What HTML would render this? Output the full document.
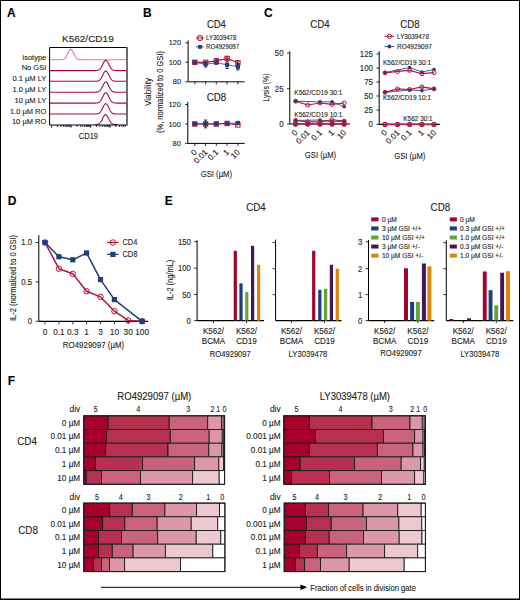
<!DOCTYPE html>
<html><head><meta charset="utf-8"><style>
html,body{margin:0;padding:0;background:#fff;}
svg{display:block;font-family:"Liberation Sans",sans-serif;}
text{stroke:#231f20;stroke-width:0.12px;}
</style></head><body>
<svg width="520" height="600" viewBox="0 0 520 600" fill="#231f20">
<rect width="520" height="600" fill="#fff"/>
<text x="7.00" y="16.80" font-size="12" font-weight="bold" fill="#000">A</text>
<text x="143.00" y="17.10" font-size="12" font-weight="bold" fill="#000">B</text>
<text x="264.00" y="17.00" font-size="12" font-weight="bold" fill="#000">C</text>
<text x="7.70" y="205.00" font-size="12" font-weight="bold" fill="#000">D</text>
<text x="164.80" y="205.00" font-size="12" font-weight="bold" fill="#000">E</text>
<text x="7.70" y="385.00" font-size="12" font-weight="bold" fill="#000">F</text>
<text x="62.00" y="42.00" font-size="9.6" textLength="51.70" lengthAdjust="spacingAndGlyphs">K562/CD19</text>
<polyline points="49.60,59.70 50.08,59.70 50.56,59.70 51.04,59.70 51.52,59.70 52.00,59.70 52.48,59.70 52.96,59.70 53.45,59.70 53.93,59.70 54.41,59.70 54.89,59.70 55.37,59.70 55.85,59.70 56.33,59.70 56.81,59.70 57.29,59.70 57.77,59.70 58.25,59.70 58.73,59.70 59.21,59.70 59.69,59.69 60.17,59.69 60.65,59.68 61.14,59.66 61.62,59.63 62.10,59.58 62.58,59.51 63.06,59.41 63.54,59.25 64.02,59.02 64.50,58.72 64.98,58.31 65.46,57.79 65.94,57.14 66.42,56.37 66.90,55.48 67.38,54.51 67.86,53.47 68.34,52.43 68.83,51.45 69.31,50.59 69.79,49.92 70.27,49.47 70.75,49.30 71.23,49.41 71.71,49.80 72.19,50.43 72.67,51.25 73.15,52.21 73.63,53.24 74.11,54.28 74.59,55.28 75.07,56.19 75.55,56.99 76.03,57.66 76.52,58.21 77.00,58.64 77.48,58.97 77.96,59.21 78.44,59.38 78.92,59.49 79.40,59.57 79.88,59.62 80.36,59.65 80.84,59.67 81.32,59.69 81.80,59.69 82.28,59.70 82.76,59.70 83.24,59.70 83.72,59.70 84.21,59.70 84.69,59.70 85.17,59.70 85.65,59.70 86.13,59.70 86.61,59.70 87.09,59.70 87.57,59.70 88.05,59.70 88.53,59.70 89.01,59.70 89.49,59.70 89.97,59.70 90.45,59.70 90.93,59.70 91.41,59.70 91.90,59.70 92.38,59.70 92.86,59.70 93.34,59.70 93.82,59.70 94.30,59.70 94.78,59.70 95.26,59.70 95.74,59.70 96.22,59.70 96.70,59.70 97.18,59.70 97.66,59.70 98.14,59.70 98.62,59.70 99.10,59.70 99.59,59.70 100.07,59.70 100.55,59.70 101.03,59.70 101.51,59.70 101.99,59.70 102.47,59.70 102.95,59.70 103.43,59.70 103.91,59.70 104.39,59.70 104.87,59.70 105.35,59.70 105.83,59.70 106.31,59.70 106.79,59.70 107.28,59.70 107.76,59.70 108.24,59.70 108.72,59.70 109.20,59.70 109.68,59.70 110.16,59.70 110.64,59.70 111.12,59.70 111.60,59.70 112.08,59.70 112.56,59.70 113.04,59.70 113.52,59.70 114.00,59.70 114.48,59.70 114.97,59.70 115.45,59.70 115.93,59.70 116.41,59.70 116.89,59.70 117.37,59.70 117.85,59.70 118.33,59.70 118.81,59.70 119.29,59.70 119.77,59.70 120.25,59.70 120.73,59.70 121.21,59.70 121.69,59.70 122.17,59.70 122.66,59.70 123.14,59.70 123.62,59.70 124.10,59.70 124.58,59.70 125.06,59.70 125.54,59.70 126.02,59.70 126.50,59.70" fill="none" stroke="#e07c93" stroke-width="1.1" stroke-linejoin="round"/>
<polyline points="49.60,70.60 50.08,70.60 50.56,70.60 51.04,70.60 51.52,70.60 52.00,70.60 52.48,70.60 52.96,70.60 53.45,70.60 53.93,70.60 54.41,70.60 54.89,70.60 55.37,70.60 55.85,70.60 56.33,70.60 56.81,70.60 57.29,70.60 57.77,70.60 58.25,70.60 58.73,70.60 59.21,70.60 59.69,70.60 60.17,70.60 60.65,70.60 61.14,70.60 61.62,70.60 62.10,70.60 62.58,70.60 63.06,70.60 63.54,70.60 64.02,70.60 64.50,70.60 64.98,70.60 65.46,70.60 65.94,70.60 66.42,70.60 66.90,70.60 67.38,70.60 67.86,70.60 68.34,70.60 68.83,70.60 69.31,70.60 69.79,70.60 70.27,70.60 70.75,70.60 71.23,70.60 71.71,70.60 72.19,70.60 72.67,70.60 73.15,70.60 73.63,70.60 74.11,70.60 74.59,70.60 75.07,70.60 75.55,70.60 76.03,70.60 76.52,70.60 77.00,70.60 77.48,70.60 77.96,70.60 78.44,70.60 78.92,70.60 79.40,70.60 79.88,70.60 80.36,70.60 80.84,70.60 81.32,70.60 81.80,70.60 82.28,70.60 82.76,70.60 83.24,70.60 83.72,70.60 84.21,70.60 84.69,70.60 85.17,70.60 85.65,70.60 86.13,70.60 86.61,70.60 87.09,70.60 87.57,70.60 88.05,70.60 88.53,70.60 89.01,70.60 89.49,70.60 89.97,70.60 90.45,70.60 90.93,70.60 91.41,70.60 91.90,70.60 92.38,70.60 92.86,70.60 93.34,70.60 93.82,70.60 94.30,70.59 94.78,70.59 95.26,70.58 95.74,70.56 96.22,70.54 96.70,70.50 97.18,70.43 97.66,70.34 98.14,70.20 98.62,70.01 99.10,69.75 99.59,69.40 100.07,68.94 100.55,68.38 101.03,67.69 101.51,66.90 101.99,66.01 102.47,65.04 102.95,64.04 103.43,63.06 103.91,62.15 104.39,61.38 104.87,60.78 105.35,60.41 105.83,60.30 106.31,60.45 106.79,60.85 107.28,61.47 107.76,62.27 108.24,63.19 108.72,64.18 109.20,65.18 109.68,66.13 110.16,67.02 110.64,67.80 111.12,68.46 111.60,69.01 112.08,69.45 112.56,69.79 113.04,70.04 113.52,70.23 114.00,70.36 114.48,70.44 114.97,70.50 115.45,70.54 115.93,70.57 116.41,70.58 116.89,70.59 117.37,70.59 117.85,70.60 118.33,70.60 118.81,70.60 119.29,70.60 119.77,70.60 120.25,70.60 120.73,70.60 121.21,70.60 121.69,70.60 122.17,70.60 122.66,70.60 123.14,70.60 123.62,70.60 124.10,70.60 124.58,70.60 125.06,70.60 125.54,70.60 126.02,70.60 126.50,70.60" fill="none" stroke="#a50d35" stroke-width="1.1" stroke-linejoin="round"/>
<polyline points="49.60,81.30 50.08,81.30 50.56,81.30 51.04,81.30 51.52,81.30 52.00,81.30 52.48,81.30 52.96,81.30 53.45,81.30 53.93,81.30 54.41,81.30 54.89,81.30 55.37,81.30 55.85,81.30 56.33,81.30 56.81,81.30 57.29,81.30 57.77,81.30 58.25,81.30 58.73,81.30 59.21,81.30 59.69,81.30 60.17,81.30 60.65,81.30 61.14,81.30 61.62,81.30 62.10,81.30 62.58,81.30 63.06,81.30 63.54,81.30 64.02,81.30 64.50,81.30 64.98,81.30 65.46,81.30 65.94,81.30 66.42,81.30 66.90,81.30 67.38,81.30 67.86,81.30 68.34,81.30 68.83,81.30 69.31,81.30 69.79,81.30 70.27,81.30 70.75,81.30 71.23,81.30 71.71,81.30 72.19,81.30 72.67,81.30 73.15,81.30 73.63,81.30 74.11,81.30 74.59,81.30 75.07,81.30 75.55,81.30 76.03,81.30 76.52,81.30 77.00,81.30 77.48,81.30 77.96,81.30 78.44,81.30 78.92,81.30 79.40,81.30 79.88,81.30 80.36,81.30 80.84,81.30 81.32,81.30 81.80,81.30 82.28,81.30 82.76,81.30 83.24,81.30 83.72,81.30 84.21,81.30 84.69,81.30 85.17,81.30 85.65,81.30 86.13,81.30 86.61,81.30 87.09,81.30 87.57,81.30 88.05,81.30 88.53,81.30 89.01,81.30 89.49,81.30 89.97,81.30 90.45,81.30 90.93,81.30 91.41,81.30 91.90,81.30 92.38,81.30 92.86,81.30 93.34,81.30 93.82,81.30 94.30,81.29 94.78,81.29 95.26,81.28 95.74,81.26 96.22,81.24 96.70,81.20 97.18,81.13 97.66,81.04 98.14,80.90 98.62,80.71 99.10,80.45 99.59,80.10 100.07,79.64 100.55,79.08 101.03,78.39 101.51,77.60 101.99,76.71 102.47,75.74 102.95,74.74 103.43,73.76 103.91,72.85 104.39,72.08 104.87,71.48 105.35,71.11 105.83,71.00 106.31,71.15 106.79,71.55 107.28,72.17 107.76,72.97 108.24,73.89 108.72,74.88 109.20,75.88 109.68,76.83 110.16,77.72 110.64,78.50 111.12,79.16 111.60,79.71 112.08,80.15 112.56,80.49 113.04,80.74 113.52,80.93 114.00,81.06 114.48,81.14 114.97,81.20 115.45,81.24 115.93,81.27 116.41,81.28 116.89,81.29 117.37,81.29 117.85,81.30 118.33,81.30 118.81,81.30 119.29,81.30 119.77,81.30 120.25,81.30 120.73,81.30 121.21,81.30 121.69,81.30 122.17,81.30 122.66,81.30 123.14,81.30 123.62,81.30 124.10,81.30 124.58,81.30 125.06,81.30 125.54,81.30 126.02,81.30 126.50,81.30" fill="none" stroke="#a50d35" stroke-width="1.1" stroke-linejoin="round"/>
<polyline points="49.60,92.20 50.08,92.20 50.56,92.20 51.04,92.20 51.52,92.20 52.00,92.20 52.48,92.20 52.96,92.20 53.45,92.20 53.93,92.20 54.41,92.20 54.89,92.20 55.37,92.20 55.85,92.20 56.33,92.20 56.81,92.20 57.29,92.20 57.77,92.20 58.25,92.20 58.73,92.20 59.21,92.20 59.69,92.20 60.17,92.20 60.65,92.20 61.14,92.20 61.62,92.20 62.10,92.20 62.58,92.20 63.06,92.20 63.54,92.20 64.02,92.20 64.50,92.20 64.98,92.20 65.46,92.20 65.94,92.20 66.42,92.20 66.90,92.20 67.38,92.20 67.86,92.20 68.34,92.20 68.83,92.20 69.31,92.20 69.79,92.20 70.27,92.20 70.75,92.20 71.23,92.20 71.71,92.20 72.19,92.20 72.67,92.20 73.15,92.20 73.63,92.20 74.11,92.20 74.59,92.20 75.07,92.20 75.55,92.20 76.03,92.20 76.52,92.20 77.00,92.20 77.48,92.20 77.96,92.20 78.44,92.20 78.92,92.20 79.40,92.20 79.88,92.20 80.36,92.20 80.84,92.20 81.32,92.20 81.80,92.20 82.28,92.20 82.76,92.20 83.24,92.20 83.72,92.20 84.21,92.20 84.69,92.20 85.17,92.20 85.65,92.20 86.13,92.20 86.61,92.20 87.09,92.20 87.57,92.20 88.05,92.20 88.53,92.20 89.01,92.20 89.49,92.20 89.97,92.20 90.45,92.20 90.93,92.20 91.41,92.20 91.90,92.20 92.38,92.20 92.86,92.20 93.34,92.20 93.82,92.20 94.30,92.19 94.78,92.19 95.26,92.18 95.74,92.16 96.22,92.14 96.70,92.10 97.18,92.03 97.66,91.94 98.14,91.80 98.62,91.61 99.10,91.35 99.59,91.00 100.07,90.54 100.55,89.98 101.03,89.29 101.51,88.50 101.99,87.61 102.47,86.64 102.95,85.64 103.43,84.66 103.91,83.75 104.39,82.98 104.87,82.38 105.35,82.01 105.83,81.90 106.31,82.05 106.79,82.45 107.28,83.07 107.76,83.87 108.24,84.79 108.72,85.78 109.20,86.78 109.68,87.73 110.16,88.62 110.64,89.40 111.12,90.06 111.60,90.61 112.08,91.05 112.56,91.39 113.04,91.64 113.52,91.83 114.00,91.96 114.48,92.04 114.97,92.10 115.45,92.14 115.93,92.17 116.41,92.18 116.89,92.19 117.37,92.19 117.85,92.20 118.33,92.20 118.81,92.20 119.29,92.20 119.77,92.20 120.25,92.20 120.73,92.20 121.21,92.20 121.69,92.20 122.17,92.20 122.66,92.20 123.14,92.20 123.62,92.20 124.10,92.20 124.58,92.20 125.06,92.20 125.54,92.20 126.02,92.20 126.50,92.20" fill="none" stroke="#a50d35" stroke-width="1.1" stroke-linejoin="round"/>
<polyline points="49.60,103.10 50.08,103.10 50.56,103.10 51.04,103.10 51.52,103.10 52.00,103.10 52.48,103.10 52.96,103.10 53.45,103.10 53.93,103.10 54.41,103.10 54.89,103.10 55.37,103.10 55.85,103.10 56.33,103.10 56.81,103.10 57.29,103.10 57.77,103.10 58.25,103.10 58.73,103.10 59.21,103.10 59.69,103.10 60.17,103.10 60.65,103.10 61.14,103.10 61.62,103.10 62.10,103.10 62.58,103.10 63.06,103.10 63.54,103.10 64.02,103.10 64.50,103.10 64.98,103.10 65.46,103.10 65.94,103.10 66.42,103.10 66.90,103.10 67.38,103.10 67.86,103.10 68.34,103.10 68.83,103.10 69.31,103.10 69.79,103.10 70.27,103.10 70.75,103.10 71.23,103.10 71.71,103.10 72.19,103.10 72.67,103.10 73.15,103.10 73.63,103.10 74.11,103.10 74.59,103.10 75.07,103.10 75.55,103.10 76.03,103.10 76.52,103.10 77.00,103.10 77.48,103.10 77.96,103.10 78.44,103.10 78.92,103.10 79.40,103.10 79.88,103.10 80.36,103.10 80.84,103.10 81.32,103.10 81.80,103.10 82.28,103.10 82.76,103.10 83.24,103.10 83.72,103.10 84.21,103.10 84.69,103.10 85.17,103.10 85.65,103.10 86.13,103.10 86.61,103.10 87.09,103.10 87.57,103.10 88.05,103.10 88.53,103.10 89.01,103.10 89.49,103.10 89.97,103.10 90.45,103.10 90.93,103.10 91.41,103.10 91.90,103.10 92.38,103.10 92.86,103.10 93.34,103.10 93.82,103.10 94.30,103.09 94.78,103.09 95.26,103.08 95.74,103.06 96.22,103.04 96.70,103.00 97.18,102.93 97.66,102.84 98.14,102.70 98.62,102.51 99.10,102.25 99.59,101.90 100.07,101.44 100.55,100.88 101.03,100.19 101.51,99.40 101.99,98.51 102.47,97.54 102.95,96.54 103.43,95.56 103.91,94.65 104.39,93.88 104.87,93.28 105.35,92.91 105.83,92.80 106.31,92.95 106.79,93.35 107.28,93.97 107.76,94.77 108.24,95.69 108.72,96.68 109.20,97.68 109.68,98.63 110.16,99.52 110.64,100.30 111.12,100.96 111.60,101.51 112.08,101.95 112.56,102.29 113.04,102.54 113.52,102.73 114.00,102.86 114.48,102.94 114.97,103.00 115.45,103.04 115.93,103.07 116.41,103.08 116.89,103.09 117.37,103.09 117.85,103.10 118.33,103.10 118.81,103.10 119.29,103.10 119.77,103.10 120.25,103.10 120.73,103.10 121.21,103.10 121.69,103.10 122.17,103.10 122.66,103.10 123.14,103.10 123.62,103.10 124.10,103.10 124.58,103.10 125.06,103.10 125.54,103.10 126.02,103.10 126.50,103.10" fill="none" stroke="#a50d35" stroke-width="1.1" stroke-linejoin="round"/>
<polyline points="49.60,114.00 50.08,114.00 50.56,114.00 51.04,114.00 51.52,114.00 52.00,114.00 52.48,114.00 52.96,114.00 53.45,114.00 53.93,114.00 54.41,114.00 54.89,114.00 55.37,114.00 55.85,114.00 56.33,114.00 56.81,114.00 57.29,114.00 57.77,114.00 58.25,114.00 58.73,114.00 59.21,114.00 59.69,114.00 60.17,114.00 60.65,114.00 61.14,114.00 61.62,114.00 62.10,114.00 62.58,114.00 63.06,114.00 63.54,114.00 64.02,114.00 64.50,114.00 64.98,114.00 65.46,114.00 65.94,114.00 66.42,114.00 66.90,114.00 67.38,114.00 67.86,114.00 68.34,114.00 68.83,114.00 69.31,114.00 69.79,114.00 70.27,114.00 70.75,114.00 71.23,114.00 71.71,114.00 72.19,114.00 72.67,114.00 73.15,114.00 73.63,114.00 74.11,114.00 74.59,114.00 75.07,114.00 75.55,114.00 76.03,114.00 76.52,114.00 77.00,114.00 77.48,114.00 77.96,114.00 78.44,114.00 78.92,114.00 79.40,114.00 79.88,114.00 80.36,114.00 80.84,114.00 81.32,114.00 81.80,114.00 82.28,114.00 82.76,114.00 83.24,114.00 83.72,114.00 84.21,114.00 84.69,114.00 85.17,114.00 85.65,114.00 86.13,114.00 86.61,114.00 87.09,114.00 87.57,114.00 88.05,114.00 88.53,114.00 89.01,114.00 89.49,114.00 89.97,114.00 90.45,114.00 90.93,114.00 91.41,114.00 91.90,114.00 92.38,114.00 92.86,114.00 93.34,114.00 93.82,114.00 94.30,113.99 94.78,113.99 95.26,113.98 95.74,113.96 96.22,113.94 96.70,113.90 97.18,113.83 97.66,113.74 98.14,113.60 98.62,113.41 99.10,113.15 99.59,112.80 100.07,112.34 100.55,111.78 101.03,111.09 101.51,110.30 101.99,109.41 102.47,108.44 102.95,107.44 103.43,106.46 103.91,105.55 104.39,104.78 104.87,104.18 105.35,103.81 105.83,103.70 106.31,103.85 106.79,104.25 107.28,104.87 107.76,105.67 108.24,106.59 108.72,107.58 109.20,108.58 109.68,109.53 110.16,110.42 110.64,111.20 111.12,111.86 111.60,112.41 112.08,112.85 112.56,113.19 113.04,113.44 113.52,113.63 114.00,113.76 114.48,113.84 114.97,113.90 115.45,113.94 115.93,113.97 116.41,113.98 116.89,113.99 117.37,113.99 117.85,114.00 118.33,114.00 118.81,114.00 119.29,114.00 119.77,114.00 120.25,114.00 120.73,114.00 121.21,114.00 121.69,114.00 122.17,114.00 122.66,114.00 123.14,114.00 123.62,114.00 124.10,114.00 124.58,114.00 125.06,114.00 125.54,114.00 126.02,114.00 126.50,114.00" fill="none" stroke="#a50d35" stroke-width="1.1" stroke-linejoin="round"/>
<polyline points="95.00,124.58 95.28,124.57 95.55,124.56 95.83,124.55 96.10,124.53 96.38,124.51 96.65,124.48 96.92,124.45 97.20,124.40 97.47,124.34 97.75,124.27 98.03,124.19 98.30,124.08 98.58,123.96 98.85,123.80 99.12,123.63 99.40,123.42 99.67,123.18 99.95,122.90 100.22,122.59 100.50,122.24 100.78,121.86 101.05,121.43 101.33,120.98 101.60,120.49 101.88,119.97 102.15,119.44 102.42,118.89 102.70,118.33 102.97,117.78 103.25,117.24 103.53,116.73 103.80,116.25 104.08,115.81 104.35,115.43 104.62,115.11 104.90,114.87 105.17,114.70 105.45,114.61 105.72,114.61 106.00,114.69 106.28,114.85 106.55,115.09 106.83,115.40 107.10,115.78 107.38,116.21 107.65,116.68 107.92,117.19 108.20,117.73 108.47,118.28 108.75,118.84 109.03,119.39 109.30,119.93 109.58,120.44 109.85,120.93 110.12,121.39 110.40,121.82 110.67,122.21 110.95,122.56 111.22,122.88 111.50,123.15 111.78,123.40 112.05,123.61 112.33,123.79 112.60,123.94 112.88,124.07 113.15,124.18 113.42,124.27 113.70,124.34 113.97,124.40 114.25,124.44 114.53,124.48 114.80,124.51 115.08,124.53 115.35,124.55 115.62,124.56 115.90,124.57 116.17,124.58 116.45,124.59 116.72,124.59 117.00,124.59" fill="none" stroke="#a50d35" stroke-width="1.1" stroke-linejoin="round"/>
<path d="M126.5,125.0 H49.6 V47.5 H126.5" fill="none" stroke="#000" stroke-width="1"/>
<line x1="127.00" y1="47.00" x2="127.00" y2="125.50" stroke="#4a4a4a" stroke-width="1.6"/>
<line x1="51.60" y1="125.00" x2="51.60" y2="127.80" stroke="#000" stroke-width="0.8"/>
<line x1="57.47" y1="125.00" x2="57.47" y2="127.00" stroke="#000" stroke-width="0.8"/>
<line x1="60.90" y1="125.00" x2="60.90" y2="127.00" stroke="#000" stroke-width="0.8"/>
<line x1="63.34" y1="125.00" x2="63.34" y2="127.00" stroke="#000" stroke-width="0.8"/>
<line x1="65.23" y1="125.00" x2="65.23" y2="127.00" stroke="#000" stroke-width="0.8"/>
<line x1="66.77" y1="125.00" x2="66.77" y2="127.00" stroke="#000" stroke-width="0.8"/>
<line x1="68.08" y1="125.00" x2="68.08" y2="127.00" stroke="#000" stroke-width="0.8"/>
<line x1="69.21" y1="125.00" x2="69.21" y2="127.00" stroke="#000" stroke-width="0.8"/>
<line x1="70.21" y1="125.00" x2="70.21" y2="127.00" stroke="#000" stroke-width="0.8"/>
<line x1="71.10" y1="125.00" x2="71.10" y2="127.80" stroke="#000" stroke-width="0.8"/>
<line x1="76.97" y1="125.00" x2="76.97" y2="127.00" stroke="#000" stroke-width="0.8"/>
<line x1="80.40" y1="125.00" x2="80.40" y2="127.00" stroke="#000" stroke-width="0.8"/>
<line x1="82.84" y1="125.00" x2="82.84" y2="127.00" stroke="#000" stroke-width="0.8"/>
<line x1="84.73" y1="125.00" x2="84.73" y2="127.00" stroke="#000" stroke-width="0.8"/>
<line x1="86.27" y1="125.00" x2="86.27" y2="127.00" stroke="#000" stroke-width="0.8"/>
<line x1="87.58" y1="125.00" x2="87.58" y2="127.00" stroke="#000" stroke-width="0.8"/>
<line x1="88.71" y1="125.00" x2="88.71" y2="127.00" stroke="#000" stroke-width="0.8"/>
<line x1="89.71" y1="125.00" x2="89.71" y2="127.00" stroke="#000" stroke-width="0.8"/>
<line x1="90.60" y1="125.00" x2="90.60" y2="127.80" stroke="#000" stroke-width="0.8"/>
<line x1="96.47" y1="125.00" x2="96.47" y2="127.00" stroke="#000" stroke-width="0.8"/>
<line x1="99.90" y1="125.00" x2="99.90" y2="127.00" stroke="#000" stroke-width="0.8"/>
<line x1="102.34" y1="125.00" x2="102.34" y2="127.00" stroke="#000" stroke-width="0.8"/>
<line x1="104.23" y1="125.00" x2="104.23" y2="127.00" stroke="#000" stroke-width="0.8"/>
<line x1="105.77" y1="125.00" x2="105.77" y2="127.00" stroke="#000" stroke-width="0.8"/>
<line x1="107.08" y1="125.00" x2="107.08" y2="127.00" stroke="#000" stroke-width="0.8"/>
<line x1="108.21" y1="125.00" x2="108.21" y2="127.00" stroke="#000" stroke-width="0.8"/>
<line x1="109.21" y1="125.00" x2="109.21" y2="127.00" stroke="#000" stroke-width="0.8"/>
<line x1="110.10" y1="125.00" x2="110.10" y2="127.80" stroke="#000" stroke-width="0.8"/>
<line x1="115.97" y1="125.00" x2="115.97" y2="127.00" stroke="#000" stroke-width="0.8"/>
<line x1="119.40" y1="125.00" x2="119.40" y2="127.00" stroke="#000" stroke-width="0.8"/>
<line x1="121.84" y1="125.00" x2="121.84" y2="127.00" stroke="#000" stroke-width="0.8"/>
<line x1="123.73" y1="125.00" x2="123.73" y2="127.00" stroke="#000" stroke-width="0.8"/>
<line x1="125.27" y1="125.00" x2="125.27" y2="127.00" stroke="#000" stroke-width="0.8"/>
<text x="46.30" y="59.75" font-size="7.5" text-anchor="end">isotype</text>
<text x="46.30" y="69.75" font-size="7.5" text-anchor="end">No GSI</text>
<text x="46.30" y="80.60" font-size="7.5" text-anchor="end">0.1 µM LY</text>
<text x="46.30" y="91.60" font-size="7.5" text-anchor="end">1.0 µM LY</text>
<text x="46.30" y="102.50" font-size="7.5" text-anchor="end">10 µM LY</text>
<text x="46.30" y="113.50" font-size="7.5" text-anchor="end">1.0 µM RO</text>
<text x="46.30" y="124.40" font-size="7.5" text-anchor="end">10 µM RO</text>
<text x="88.40" y="139.40" font-size="9.6" text-anchor="middle" textLength="19.30" lengthAdjust="spacingAndGlyphs">CD19</text>
<text x="216.40" y="27.60" font-size="10.4" text-anchor="middle" textLength="19.00" lengthAdjust="spacingAndGlyphs">CD4</text>
<text x="216.50" y="100.90" font-size="10.4" text-anchor="middle" textLength="19.70" lengthAdjust="spacingAndGlyphs">CD8</text>
<line x1="188.10" y1="40.30" x2="188.10" y2="81.80" stroke="#000" stroke-width="1"/>
<line x1="188.10" y1="81.80" x2="244.60" y2="81.80" stroke="#000" stroke-width="1"/>
<line x1="185.30" y1="42.80" x2="188.10" y2="42.80" stroke="#000" stroke-width="0.8"/>
<text x="181.10" y="45.40" font-size="8.0" text-anchor="end" textLength="12.35" lengthAdjust="spacingAndGlyphs">120</text>
<line x1="185.30" y1="62.30" x2="188.10" y2="62.30" stroke="#000" stroke-width="0.8"/>
<text x="181.10" y="64.90" font-size="8.0" text-anchor="end" textLength="12.35" lengthAdjust="spacingAndGlyphs">100</text>
<line x1="185.30" y1="81.80" x2="188.10" y2="81.80" stroke="#000" stroke-width="0.8"/>
<text x="181.10" y="84.40" font-size="8.0" text-anchor="end" textLength="8.23" lengthAdjust="spacingAndGlyphs">80</text>
<line x1="194.80" y1="81.80" x2="194.80" y2="84.40" stroke="#000" stroke-width="0.8"/>
<line x1="205.60" y1="81.80" x2="205.60" y2="84.40" stroke="#000" stroke-width="0.8"/>
<line x1="216.30" y1="81.80" x2="216.30" y2="84.40" stroke="#000" stroke-width="0.8"/>
<line x1="227.10" y1="81.80" x2="227.10" y2="84.40" stroke="#000" stroke-width="0.8"/>
<line x1="237.90" y1="81.80" x2="237.90" y2="84.40" stroke="#000" stroke-width="0.8"/>
<line x1="205.60" y1="67.08" x2="205.60" y2="61.42" stroke="#000" stroke-width="0.8"/>
<line x1="204.00" y1="67.08" x2="207.20" y2="67.08" stroke="#000" stroke-width="0.8"/>
<line x1="204.00" y1="61.42" x2="207.20" y2="61.42" stroke="#000" stroke-width="0.8"/>
<line x1="216.30" y1="62.30" x2="216.30" y2="59.38" stroke="#000" stroke-width="0.8"/>
<line x1="214.70" y1="62.30" x2="217.90" y2="62.30" stroke="#000" stroke-width="0.8"/>
<line x1="214.70" y1="59.38" x2="217.90" y2="59.38" stroke="#000" stroke-width="0.8"/>
<line x1="227.10" y1="59.96" x2="227.10" y2="56.84" stroke="#000" stroke-width="0.8"/>
<line x1="225.50" y1="59.96" x2="228.70" y2="59.96" stroke="#000" stroke-width="0.8"/>
<line x1="225.50" y1="56.84" x2="228.70" y2="56.84" stroke="#000" stroke-width="0.8"/>
<line x1="227.10" y1="68.44" x2="227.10" y2="61.03" stroke="#000" stroke-width="0.8"/>
<line x1="225.50" y1="68.44" x2="228.70" y2="68.44" stroke="#000" stroke-width="0.8"/>
<line x1="225.50" y1="61.03" x2="228.70" y2="61.03" stroke="#000" stroke-width="0.8"/>
<line x1="237.90" y1="64.74" x2="237.90" y2="60.84" stroke="#000" stroke-width="0.8"/>
<line x1="236.30" y1="64.74" x2="239.50" y2="64.74" stroke="#000" stroke-width="0.8"/>
<line x1="236.30" y1="60.84" x2="239.50" y2="60.84" stroke="#000" stroke-width="0.8"/>
<line x1="237.90" y1="69.91" x2="237.90" y2="63.47" stroke="#000" stroke-width="0.8"/>
<line x1="236.30" y1="69.91" x2="239.50" y2="69.91" stroke="#000" stroke-width="0.8"/>
<line x1="236.30" y1="63.47" x2="239.50" y2="63.47" stroke="#000" stroke-width="0.8"/>
<polyline points="194.80,62.30 205.60,64.25 216.30,62.79 227.10,64.74 237.90,66.69" fill="none" stroke="#4a6eae" stroke-width="1.0" stroke-linejoin="round"/>
<polyline points="194.80,62.30 205.60,62.30 216.30,60.84 227.10,58.40 237.90,62.79" fill="none" stroke="#b3163c" stroke-width="1.2" stroke-linejoin="round"/>
<rect x="192.60" y="60.10" width="4.40" height="4.40" fill="none" stroke="#b3163c" stroke-width="1.0"/>
<rect x="203.40" y="60.10" width="4.40" height="4.40" fill="none" stroke="#b3163c" stroke-width="1.0"/>
<rect x="214.10" y="58.64" width="4.40" height="4.40" fill="none" stroke="#b3163c" stroke-width="1.0"/>
<rect x="224.90" y="56.20" width="4.40" height="4.40" fill="none" stroke="#b3163c" stroke-width="1.0"/>
<rect x="235.70" y="60.59" width="4.40" height="4.40" fill="none" stroke="#b3163c" stroke-width="1.0"/>
<rect x="192.70" y="60.20" width="4.20" height="4.20" fill="#213f78"/>
<rect x="203.50" y="62.15" width="4.20" height="4.20" fill="#213f78"/>
<rect x="214.20" y="60.69" width="4.20" height="4.20" fill="#213f78"/>
<rect x="225.00" y="62.64" width="4.20" height="4.20" fill="#213f78"/>
<rect x="235.80" y="64.59" width="4.20" height="4.20" fill="#213f78"/>
<line x1="187.80" y1="102.00" x2="187.80" y2="143.40" stroke="#000" stroke-width="1"/>
<line x1="187.80" y1="143.40" x2="244.70" y2="143.40" stroke="#000" stroke-width="1"/>
<line x1="185.00" y1="104.50" x2="187.80" y2="104.50" stroke="#000" stroke-width="0.8"/>
<text x="180.80" y="107.10" font-size="8.0" text-anchor="end" textLength="12.35" lengthAdjust="spacingAndGlyphs">120</text>
<line x1="185.00" y1="123.95" x2="187.80" y2="123.95" stroke="#000" stroke-width="0.8"/>
<text x="180.80" y="126.55" font-size="8.0" text-anchor="end" textLength="12.35" lengthAdjust="spacingAndGlyphs">100</text>
<line x1="185.00" y1="143.40" x2="187.80" y2="143.40" stroke="#000" stroke-width="0.8"/>
<text x="180.80" y="146.00" font-size="8.0" text-anchor="end" textLength="8.23" lengthAdjust="spacingAndGlyphs">80</text>
<line x1="194.80" y1="143.40" x2="194.80" y2="146.00" stroke="#000" stroke-width="0.8"/>
<line x1="205.60" y1="143.40" x2="205.60" y2="146.00" stroke="#000" stroke-width="0.8"/>
<line x1="216.30" y1="143.40" x2="216.30" y2="146.00" stroke="#000" stroke-width="0.8"/>
<line x1="227.10" y1="143.40" x2="227.10" y2="146.00" stroke="#000" stroke-width="0.8"/>
<line x1="237.90" y1="143.40" x2="237.90" y2="146.00" stroke="#000" stroke-width="0.8"/>
<line x1="205.60" y1="127.84" x2="205.60" y2="120.06" stroke="#000" stroke-width="0.8"/>
<line x1="204.00" y1="127.84" x2="207.20" y2="127.84" stroke="#000" stroke-width="0.8"/>
<line x1="204.00" y1="120.06" x2="207.20" y2="120.06" stroke="#000" stroke-width="0.8"/>
<polyline points="194.80,123.95 205.60,123.95 216.30,123.95 227.10,123.46 237.90,122.98" fill="none" stroke="#4a6eae" stroke-width="1.0" stroke-linejoin="round"/>
<polyline points="194.80,123.95 205.60,123.95 216.30,123.95 227.10,123.46 237.90,124.92" fill="none" stroke="#b3163c" stroke-width="1.2" stroke-linejoin="round"/>
<rect x="192.60" y="121.75" width="4.40" height="4.40" fill="none" stroke="#b3163c" stroke-width="1.0"/>
<rect x="203.40" y="121.75" width="4.40" height="4.40" fill="none" stroke="#b3163c" stroke-width="1.0"/>
<rect x="214.10" y="121.75" width="4.40" height="4.40" fill="none" stroke="#b3163c" stroke-width="1.0"/>
<rect x="224.90" y="121.26" width="4.40" height="4.40" fill="none" stroke="#b3163c" stroke-width="1.0"/>
<rect x="235.70" y="122.72" width="4.40" height="4.40" fill="none" stroke="#b3163c" stroke-width="1.0"/>
<rect x="192.70" y="121.85" width="4.20" height="4.20" fill="#213f78"/>
<rect x="203.50" y="121.85" width="4.20" height="4.20" fill="#213f78"/>
<rect x="214.20" y="121.85" width="4.20" height="4.20" fill="#213f78"/>
<rect x="225.00" y="121.36" width="4.20" height="4.20" fill="#213f78"/>
<rect x="235.80" y="120.88" width="4.20" height="4.20" fill="#213f78"/>
<line x1="196.10" y1="38.00" x2="203.80" y2="38.00" stroke="#b3163c" stroke-width="1"/>
<circle cx="200.00" cy="38.00" r="2.5" fill="none" stroke="#b3163c" stroke-width="1.1"/>
<text x="206.00" y="40.30" font-size="6.6" textLength="30.30" lengthAdjust="spacingAndGlyphs">LY3039478</text>
<line x1="196.10" y1="46.90" x2="203.80" y2="46.90" stroke="#3b5f9f" stroke-width="1"/>
<rect x="198.10" y="45.00" width="3.80" height="3.80" fill="#213f78"/>
<text x="206.00" y="48.90" font-size="6.6" textLength="33.20" lengthAdjust="spacingAndGlyphs">RO4929097</text>
<text x="197.40" y="152.90" font-size="8.1" text-anchor="end" transform="rotate(-45 197.40 152.90)">0</text>
<text x="208.20" y="152.90" font-size="8.1" text-anchor="end" transform="rotate(-45 208.20 152.90)">0.01</text>
<text x="218.90" y="152.90" font-size="8.1" text-anchor="end" transform="rotate(-45 218.90 152.90)">0.1</text>
<text x="229.70" y="152.90" font-size="8.1" text-anchor="end" transform="rotate(-45 229.70 152.90)">1</text>
<text x="240.50" y="152.90" font-size="8.1" text-anchor="end" transform="rotate(-45 240.50 152.90)">10</text>
<text x="216.40" y="176.90" font-size="9.6" text-anchor="middle" textLength="31.40" lengthAdjust="spacingAndGlyphs">GSI (µM)</text>
<text x="150.60" y="92.00" font-size="9.0" text-anchor="middle" textLength="28.00" lengthAdjust="spacingAndGlyphs" transform="rotate(-90 150.60 92.00)">Viability</text>
<text x="162.90" y="92.00" font-size="9.0" text-anchor="middle" textLength="82.00" lengthAdjust="spacingAndGlyphs" transform="rotate(-90 162.90 92.00)">(%, normalized to 0 GSI)</text>
<text x="319.90" y="27.50" font-size="10.4" text-anchor="middle" textLength="19.20" lengthAdjust="spacingAndGlyphs">CD4</text>
<text x="410.00" y="27.80" font-size="10.4" text-anchor="middle" textLength="19.40" lengthAdjust="spacingAndGlyphs">CD8</text>
<line x1="289.80" y1="51.20" x2="289.80" y2="124.00" stroke="#000" stroke-width="1"/>
<line x1="289.80" y1="124.00" x2="350.00" y2="124.00" stroke="#000" stroke-width="1.2"/>
<line x1="287.00" y1="53.10" x2="289.80" y2="53.10" stroke="#000" stroke-width="0.8"/>
<text x="283.60" y="56.00" font-size="8.5" text-anchor="end" textLength="8.79" lengthAdjust="spacingAndGlyphs">50</text>
<line x1="287.00" y1="88.70" x2="289.80" y2="88.70" stroke="#000" stroke-width="0.8"/>
<text x="283.60" y="91.60" font-size="8.5" text-anchor="end" textLength="8.79" lengthAdjust="spacingAndGlyphs">25</text>
<line x1="287.00" y1="124.00" x2="289.80" y2="124.00" stroke="#000" stroke-width="0.8"/>
<text x="283.60" y="126.90" font-size="8.5" text-anchor="end" textLength="4.39" lengthAdjust="spacingAndGlyphs">0</text>
<line x1="295.60" y1="124.00" x2="295.60" y2="126.60" stroke="#000" stroke-width="0.8"/>
<line x1="307.70" y1="124.00" x2="307.70" y2="126.60" stroke="#000" stroke-width="0.8"/>
<line x1="320.00" y1="124.00" x2="320.00" y2="126.60" stroke="#000" stroke-width="0.8"/>
<line x1="332.10" y1="124.00" x2="332.10" y2="126.60" stroke="#000" stroke-width="0.8"/>
<line x1="344.20" y1="124.00" x2="344.20" y2="126.60" stroke="#000" stroke-width="0.8"/>
<polyline points="295.60,101.17 320.00,101.88 332.10,101.88 344.20,106.70" fill="none" stroke="#3b5f9f" stroke-width="1.0" stroke-linejoin="round"/>
<polyline points="295.60,101.17 307.70,105.00 320.00,103.01 332.10,104.43 344.20,103.01" fill="none" stroke="#b3163c" stroke-width="1.2" stroke-linejoin="round"/>
<circle cx="295.60" cy="101.17" r="1.8" fill="#213f78"/>
<circle cx="320.00" cy="101.88" r="1.8" fill="#213f78"/>
<circle cx="332.10" cy="101.88" r="1.8" fill="#213f78"/>
<circle cx="344.20" cy="106.70" r="1.8" fill="#213f78"/>
<circle cx="295.60" cy="101.17" r="2.0" fill="none" stroke="#b3163c" stroke-width="1.0"/>
<circle cx="307.70" cy="105.00" r="2.0" fill="none" stroke="#b3163c" stroke-width="1.0"/>
<circle cx="320.00" cy="103.01" r="2.0" fill="none" stroke="#b3163c" stroke-width="1.0"/>
<circle cx="332.10" cy="104.43" r="2.0" fill="none" stroke="#b3163c" stroke-width="1.0"/>
<circle cx="344.20" cy="103.01" r="2.0" fill="none" stroke="#b3163c" stroke-width="1.0"/>
<polyline points="295.60,120.45 320.00,120.03 332.10,121.87 344.20,121.16" fill="none" stroke="#3b5f9f" stroke-width="1.0" stroke-linejoin="round"/>
<polyline points="295.60,120.45 307.70,121.87 320.00,121.87 332.10,119.75 344.20,121.16" fill="none" stroke="#b3163c" stroke-width="1.2" stroke-linejoin="round"/>
<circle cx="295.60" cy="120.45" r="1.8" fill="#213f78"/>
<circle cx="320.00" cy="120.03" r="1.8" fill="#213f78"/>
<circle cx="332.10" cy="121.87" r="1.8" fill="#213f78"/>
<circle cx="344.20" cy="121.16" r="1.8" fill="#213f78"/>
<circle cx="295.60" cy="120.45" r="2.0" fill="none" stroke="#b3163c" stroke-width="1.0"/>
<circle cx="307.70" cy="121.87" r="2.0" fill="none" stroke="#b3163c" stroke-width="1.0"/>
<circle cx="320.00" cy="121.87" r="2.0" fill="none" stroke="#b3163c" stroke-width="1.0"/>
<circle cx="332.10" cy="119.75" r="2.0" fill="none" stroke="#b3163c" stroke-width="1.0"/>
<circle cx="344.20" cy="121.16" r="2.0" fill="none" stroke="#b3163c" stroke-width="1.0"/>
<line x1="295.60" y1="124.00" x2="344.20" y2="124.00" stroke="#b02850" stroke-width="1.7"/>
<circle cx="295.60" cy="124.00" r="2.0" fill="none" stroke="#b3163c" stroke-width="1.3"/>
<circle cx="295.60" cy="124.00" r="1.0" fill="#213f78"/>
<circle cx="307.70" cy="124.00" r="2.0" fill="none" stroke="#b3163c" stroke-width="1.3"/>
<circle cx="307.70" cy="124.00" r="1.0" fill="#213f78"/>
<circle cx="320.00" cy="124.00" r="2.0" fill="none" stroke="#b3163c" stroke-width="1.3"/>
<circle cx="320.00" cy="124.00" r="1.0" fill="#213f78"/>
<circle cx="332.10" cy="124.00" r="2.0" fill="none" stroke="#b3163c" stroke-width="1.3"/>
<circle cx="332.10" cy="124.00" r="1.0" fill="#213f78"/>
<circle cx="344.20" cy="124.00" r="2.0" fill="none" stroke="#b3163c" stroke-width="1.3"/>
<circle cx="344.20" cy="124.00" r="1.0" fill="#213f78"/>
<line x1="379.20" y1="51.20" x2="379.20" y2="124.40" stroke="#000" stroke-width="1"/>
<line x1="379.20" y1="124.40" x2="439.80" y2="124.40" stroke="#000" stroke-width="1.2"/>
<line x1="376.40" y1="54.00" x2="379.20" y2="54.00" stroke="#000" stroke-width="0.8"/>
<text x="373.00" y="56.90" font-size="8.5" text-anchor="end" textLength="13.18" lengthAdjust="spacingAndGlyphs">125</text>
<line x1="376.40" y1="68.10" x2="379.20" y2="68.10" stroke="#000" stroke-width="0.8"/>
<text x="373.00" y="71.00" font-size="8.5" text-anchor="end" textLength="13.18" lengthAdjust="spacingAndGlyphs">100</text>
<line x1="376.40" y1="82.00" x2="379.20" y2="82.00" stroke="#000" stroke-width="0.8"/>
<text x="373.00" y="84.90" font-size="8.5" text-anchor="end" textLength="8.79" lengthAdjust="spacingAndGlyphs">75</text>
<line x1="376.40" y1="96.00" x2="379.20" y2="96.00" stroke="#000" stroke-width="0.8"/>
<text x="373.00" y="98.90" font-size="8.5" text-anchor="end" textLength="8.79" lengthAdjust="spacingAndGlyphs">50</text>
<line x1="376.40" y1="110.10" x2="379.20" y2="110.10" stroke="#000" stroke-width="0.8"/>
<text x="373.00" y="113.00" font-size="8.5" text-anchor="end" textLength="8.79" lengthAdjust="spacingAndGlyphs">25</text>
<line x1="376.40" y1="124.40" x2="379.20" y2="124.40" stroke="#000" stroke-width="0.8"/>
<text x="373.00" y="127.30" font-size="8.5" text-anchor="end" textLength="4.39" lengthAdjust="spacingAndGlyphs">0</text>
<line x1="385.00" y1="124.40" x2="385.00" y2="127.00" stroke="#000" stroke-width="0.8"/>
<line x1="397.50" y1="124.40" x2="397.50" y2="127.00" stroke="#000" stroke-width="0.8"/>
<line x1="409.60" y1="124.40" x2="409.60" y2="127.00" stroke="#000" stroke-width="0.8"/>
<line x1="421.90" y1="124.40" x2="421.90" y2="127.00" stroke="#000" stroke-width="0.8"/>
<line x1="434.00" y1="124.40" x2="434.00" y2="127.00" stroke="#000" stroke-width="0.8"/>
<polyline points="385.00,72.59 409.60,67.52 421.90,72.02 434.00,69.49" fill="none" stroke="#3b5f9f" stroke-width="1.0" stroke-linejoin="round"/>
<polyline points="385.00,72.87 397.50,71.46 409.60,70.33 421.90,73.71 434.00,72.59" fill="none" stroke="#b3163c" stroke-width="1.2" stroke-linejoin="round"/>
<circle cx="385.00" cy="72.59" r="1.8" fill="#213f78"/>
<circle cx="409.60" cy="67.52" r="1.8" fill="#213f78"/>
<circle cx="421.90" cy="72.02" r="1.8" fill="#213f78"/>
<circle cx="434.00" cy="69.49" r="1.8" fill="#213f78"/>
<circle cx="385.00" cy="72.87" r="2.0" fill="none" stroke="#b3163c" stroke-width="1.0"/>
<circle cx="397.50" cy="71.46" r="2.0" fill="none" stroke="#b3163c" stroke-width="1.0"/>
<circle cx="409.60" cy="70.33" r="2.0" fill="none" stroke="#b3163c" stroke-width="1.0"/>
<circle cx="421.90" cy="73.71" r="2.0" fill="none" stroke="#b3163c" stroke-width="1.0"/>
<circle cx="434.00" cy="72.59" r="2.0" fill="none" stroke="#b3163c" stroke-width="1.0"/>
<polyline points="385.00,92.30 409.60,90.04 421.90,90.61 434.00,88.92" fill="none" stroke="#3b5f9f" stroke-width="1.0" stroke-linejoin="round"/>
<polyline points="385.00,92.30 397.50,88.92 409.60,89.48 421.90,86.95 434.00,88.92" fill="none" stroke="#b3163c" stroke-width="1.2" stroke-linejoin="round"/>
<circle cx="385.00" cy="92.30" r="1.8" fill="#213f78"/>
<circle cx="409.60" cy="90.04" r="1.8" fill="#213f78"/>
<circle cx="421.90" cy="90.61" r="1.8" fill="#213f78"/>
<circle cx="434.00" cy="88.92" r="1.8" fill="#213f78"/>
<circle cx="385.00" cy="92.30" r="2.0" fill="none" stroke="#b3163c" stroke-width="1.0"/>
<circle cx="397.50" cy="88.92" r="2.0" fill="none" stroke="#b3163c" stroke-width="1.0"/>
<circle cx="409.60" cy="89.48" r="2.0" fill="none" stroke="#b3163c" stroke-width="1.0"/>
<circle cx="421.90" cy="86.95" r="2.0" fill="none" stroke="#b3163c" stroke-width="1.0"/>
<circle cx="434.00" cy="88.92" r="2.0" fill="none" stroke="#b3163c" stroke-width="1.0"/>
<line x1="385.00" y1="124.40" x2="434.00" y2="124.40" stroke="#b02850" stroke-width="1.7"/>
<circle cx="385.00" cy="124.40" r="2.0" fill="none" stroke="#b3163c" stroke-width="1.3"/>
<circle cx="385.00" cy="124.40" r="1.0" fill="#213f78"/>
<circle cx="397.50" cy="124.40" r="2.0" fill="none" stroke="#b3163c" stroke-width="1.3"/>
<circle cx="397.50" cy="124.40" r="1.0" fill="#213f78"/>
<circle cx="409.60" cy="124.40" r="2.0" fill="none" stroke="#b3163c" stroke-width="1.3"/>
<circle cx="409.60" cy="124.40" r="1.0" fill="#213f78"/>
<circle cx="421.90" cy="124.40" r="2.0" fill="none" stroke="#b3163c" stroke-width="1.3"/>
<circle cx="421.90" cy="124.40" r="1.0" fill="#213f78"/>
<circle cx="434.00" cy="124.40" r="2.0" fill="none" stroke="#b3163c" stroke-width="1.3"/>
<circle cx="434.00" cy="124.40" r="1.0" fill="#213f78"/>
<text x="294.30" y="95.10" font-size="7.3" textLength="48.00" lengthAdjust="spacingAndGlyphs">K562/CD19 30:1</text>
<text x="294.30" y="116.90" font-size="7.3" textLength="48.00" lengthAdjust="spacingAndGlyphs">K562/CD19 10:1</text>
<text x="383.00" y="65.30" font-size="7.3" textLength="48.00" lengthAdjust="spacingAndGlyphs">K562/CD19 30:1</text>
<text x="383.00" y="99.90" font-size="7.3" textLength="48.00" lengthAdjust="spacingAndGlyphs">K562/CD19 10:1</text>
<text x="403.30" y="121.00" font-size="7.3" textLength="29.40" lengthAdjust="spacingAndGlyphs">K562 30:1</text>
<text x="298.20" y="133.40" font-size="8.1" text-anchor="end" transform="rotate(-45 298.20 133.40)">0</text>
<text x="310.30" y="133.40" font-size="8.1" text-anchor="end" transform="rotate(-45 310.30 133.40)">0.01</text>
<text x="322.60" y="133.40" font-size="8.1" text-anchor="end" transform="rotate(-45 322.60 133.40)">0.1</text>
<text x="334.70" y="133.40" font-size="8.1" text-anchor="end" transform="rotate(-45 334.70 133.40)">1</text>
<text x="346.80" y="133.40" font-size="8.1" text-anchor="end" transform="rotate(-45 346.80 133.40)">10</text>
<text x="387.60" y="133.40" font-size="8.1" text-anchor="end" transform="rotate(-45 387.60 133.40)">0</text>
<text x="400.10" y="133.40" font-size="8.1" text-anchor="end" transform="rotate(-45 400.10 133.40)">0.01</text>
<text x="412.20" y="133.40" font-size="8.1" text-anchor="end" transform="rotate(-45 412.20 133.40)">0.1</text>
<text x="424.50" y="133.40" font-size="8.1" text-anchor="end" transform="rotate(-45 424.50 133.40)">1</text>
<text x="436.60" y="133.40" font-size="8.1" text-anchor="end" transform="rotate(-45 436.60 133.40)">10</text>
<text x="320.50" y="158.00" font-size="9.6" text-anchor="middle" textLength="31.30" lengthAdjust="spacingAndGlyphs">GSI (µM)</text>
<text x="409.80" y="159.20" font-size="9.6" text-anchor="middle" textLength="31.20" lengthAdjust="spacingAndGlyphs">GSI (µM)</text>
<text x="269.40" y="87.50" font-size="9.0" text-anchor="middle" textLength="28.00" lengthAdjust="spacingAndGlyphs" transform="rotate(-90 269.40 87.50)">Lysis (%)</text>
<line x1="384.60" y1="36.30" x2="394.20" y2="36.30" stroke="#b3163c" stroke-width="1"/>
<circle cx="389.40" cy="36.30" r="2.1" fill="none" stroke="#b3163c" stroke-width="1.0"/>
<text x="397.10" y="38.60" font-size="6.9" textLength="31.80" lengthAdjust="spacingAndGlyphs">LY3039478</text>
<line x1="384.60" y1="46.50" x2="394.20" y2="46.50" stroke="#3b5f9f" stroke-width="1"/>
<circle cx="389.40" cy="46.50" r="1.9" fill="#213f78"/>
<text x="397.10" y="48.80" font-size="6.9" textLength="34.80" lengthAdjust="spacingAndGlyphs">RO4929097</text>
<line x1="38.80" y1="235.00" x2="38.80" y2="321.30" stroke="#000" stroke-width="1"/>
<line x1="38.80" y1="321.30" x2="148.00" y2="321.30" stroke="#000" stroke-width="1.2"/>
<line x1="35.60" y1="242.50" x2="38.80" y2="242.50" stroke="#000" stroke-width="0.8"/>
<text x="32.20" y="245.40" font-size="8.4" text-anchor="end" textLength="10.84" lengthAdjust="spacingAndGlyphs">1.0</text>
<line x1="35.60" y1="281.90" x2="38.80" y2="281.90" stroke="#000" stroke-width="0.8"/>
<text x="32.20" y="284.80" font-size="8.4" text-anchor="end" textLength="10.84" lengthAdjust="spacingAndGlyphs">0.5</text>
<line x1="35.60" y1="321.30" x2="38.80" y2="321.30" stroke="#000" stroke-width="0.8"/>
<text x="32.20" y="324.20" font-size="8.4" text-anchor="end" textLength="4.34" lengthAdjust="spacingAndGlyphs">0</text>
<line x1="45.00" y1="321.30" x2="45.00" y2="324.30" stroke="#000" stroke-width="0.8"/>
<text x="45.00" y="334.90" font-size="8.7" text-anchor="middle" textLength="4.62" lengthAdjust="spacingAndGlyphs">0</text>
<line x1="58.90" y1="321.30" x2="58.90" y2="324.30" stroke="#000" stroke-width="0.8"/>
<text x="58.90" y="334.90" font-size="8.7" text-anchor="middle" textLength="11.54" lengthAdjust="spacingAndGlyphs">0.1</text>
<line x1="72.80" y1="321.30" x2="72.80" y2="324.30" stroke="#000" stroke-width="0.8"/>
<text x="72.80" y="334.90" font-size="8.7" text-anchor="middle" textLength="11.54" lengthAdjust="spacingAndGlyphs">0.3</text>
<line x1="86.60" y1="321.30" x2="86.60" y2="324.30" stroke="#000" stroke-width="0.8"/>
<text x="86.60" y="334.90" font-size="8.7" text-anchor="middle" textLength="4.62" lengthAdjust="spacingAndGlyphs">1</text>
<line x1="100.50" y1="321.30" x2="100.50" y2="324.30" stroke="#000" stroke-width="0.8"/>
<text x="100.50" y="334.90" font-size="8.7" text-anchor="middle" textLength="4.62" lengthAdjust="spacingAndGlyphs">3</text>
<line x1="114.40" y1="321.30" x2="114.40" y2="324.30" stroke="#000" stroke-width="0.8"/>
<text x="114.40" y="334.90" font-size="8.7" text-anchor="middle" textLength="9.23" lengthAdjust="spacingAndGlyphs">10</text>
<line x1="128.20" y1="321.30" x2="128.20" y2="324.30" stroke="#000" stroke-width="0.8"/>
<text x="128.20" y="334.90" font-size="8.7" text-anchor="middle" textLength="9.23" lengthAdjust="spacingAndGlyphs">30</text>
<line x1="142.10" y1="321.30" x2="142.10" y2="324.30" stroke="#000" stroke-width="0.8"/>
<text x="142.10" y="334.90" font-size="8.7" text-anchor="middle" textLength="13.85" lengthAdjust="spacingAndGlyphs">100</text>
<text x="93.50" y="348.30" font-size="9.2" text-anchor="middle" textLength="61.40" lengthAdjust="spacingAndGlyphs">RO4929097 (µM)</text>
<text x="16.00" y="278.00" font-size="9.0" text-anchor="middle" textLength="86.00" lengthAdjust="spacingAndGlyphs" transform="rotate(-90 16.00 278.00)">IL-2 (normalized to 0 GSI)</text>
<polyline points="45.00,242.50 58.90,256.70 72.80,259.80 86.60,253.00 100.50,279.60 114.40,299.60 142.10,321.30" fill="none" stroke="#1f3f7a" stroke-width="1.5" stroke-linejoin="round"/>
<polyline points="45.00,242.50 58.90,268.70 72.80,273.80 86.60,291.20 100.50,296.90 114.40,311.20 128.20,320.40 142.10,321.30" fill="none" stroke="#b3163c" stroke-width="1.5" stroke-linejoin="round"/>
<circle cx="45.00" cy="242.50" r="2.7" fill="none" stroke="#b3163c" stroke-width="1.0"/>
<circle cx="58.90" cy="268.70" r="2.7" fill="none" stroke="#b3163c" stroke-width="1.0"/>
<circle cx="72.80" cy="273.80" r="2.7" fill="none" stroke="#b3163c" stroke-width="1.0"/>
<circle cx="86.60" cy="291.20" r="2.7" fill="none" stroke="#b3163c" stroke-width="1.0"/>
<circle cx="100.50" cy="296.90" r="2.7" fill="none" stroke="#b3163c" stroke-width="1.0"/>
<circle cx="114.40" cy="311.20" r="2.7" fill="none" stroke="#b3163c" stroke-width="1.0"/>
<circle cx="128.20" cy="320.40" r="2.7" fill="none" stroke="#b3163c" stroke-width="1.0"/>
<circle cx="142.10" cy="321.30" r="2.7" fill="none" stroke="#b3163c" stroke-width="1.0"/>
<rect x="42.40" y="239.90" width="5.20" height="5.20" fill="#213f78"/>
<rect x="56.30" y="254.10" width="5.20" height="5.20" fill="#213f78"/>
<rect x="70.20" y="257.20" width="5.20" height="5.20" fill="#213f78"/>
<rect x="84.00" y="250.40" width="5.20" height="5.20" fill="#213f78"/>
<rect x="97.90" y="277.00" width="5.20" height="5.20" fill="#213f78"/>
<rect x="111.80" y="297.00" width="5.20" height="5.20" fill="#213f78"/>
<rect x="139.50" y="318.70" width="5.20" height="5.20" fill="#213f78"/>
<line x1="107.10" y1="242.50" x2="118.70" y2="242.50" stroke="#b3163c" stroke-width="1.2"/>
<circle cx="112.90" cy="242.50" r="2.7" fill="none" stroke="#b3163c" stroke-width="1.0"/>
<text x="122.50" y="245.40" font-size="8.6" textLength="14.80" lengthAdjust="spacingAndGlyphs">CD4</text>
<line x1="107.10" y1="254.40" x2="118.70" y2="254.40" stroke="#1f3f7a" stroke-width="1.2"/>
<rect x="110.30" y="251.80" width="5.20" height="5.20" fill="#213f78"/>
<text x="122.50" y="257.30" font-size="8.6" textLength="14.80" lengthAdjust="spacingAndGlyphs">CD8</text>
<text x="256.00" y="210.90" font-size="10.4" text-anchor="middle" textLength="19.40" lengthAdjust="spacingAndGlyphs">CD4</text>
<text x="440.40" y="210.80" font-size="10.4" text-anchor="middle" textLength="19.60" lengthAdjust="spacingAndGlyphs">CD8</text>
<line x1="197.10" y1="240.20" x2="197.10" y2="320.60" stroke="#000" stroke-width="1"/>
<line x1="197.10" y1="320.60" x2="264.00" y2="320.60" stroke="#000" stroke-width="1.2"/>
<line x1="194.10" y1="241.70" x2="197.10" y2="241.70" stroke="#000" stroke-width="0.8"/>
<text x="190.90" y="244.70" font-size="8.5" text-anchor="end" textLength="13.01" lengthAdjust="spacingAndGlyphs">150</text>
<line x1="194.10" y1="268.20" x2="197.10" y2="268.20" stroke="#000" stroke-width="0.8"/>
<text x="190.90" y="271.20" font-size="8.5" text-anchor="end" textLength="13.01" lengthAdjust="spacingAndGlyphs">100</text>
<line x1="194.10" y1="294.50" x2="197.10" y2="294.50" stroke="#000" stroke-width="0.8"/>
<text x="190.90" y="297.50" font-size="8.5" text-anchor="end" textLength="8.68" lengthAdjust="spacingAndGlyphs">50</text>
<line x1="194.10" y1="320.60" x2="197.10" y2="320.60" stroke="#000" stroke-width="0.8"/>
<text x="190.90" y="323.60" font-size="8.5" text-anchor="end" textLength="4.34" lengthAdjust="spacingAndGlyphs">0</text>
<line x1="213.50" y1="320.60" x2="213.50" y2="323.00" stroke="#000" stroke-width="0.8"/>
<line x1="246.50" y1="320.60" x2="246.50" y2="323.00" stroke="#000" stroke-width="0.8"/>
<rect x="233.70" y="250.80" width="3.20" height="69.80" fill="#a3022b"/>
<rect x="239.40" y="283.30" width="3.20" height="37.30" fill="#1a3f7a"/>
<rect x="245.20" y="292.10" width="3.20" height="28.50" fill="#62a536"/>
<rect x="251.00" y="245.80" width="3.20" height="74.80" fill="#45155a"/>
<rect x="257.00" y="264.80" width="3.20" height="55.80" fill="#dd8508"/>
<line x1="275.60" y1="239.60" x2="275.60" y2="320.60" stroke="#000" stroke-width="1"/>
<line x1="275.60" y1="320.60" x2="341.50" y2="320.60" stroke="#000" stroke-width="1.2"/>
<line x1="272.60" y1="242.50" x2="275.60" y2="242.50" stroke="#000" stroke-width="0.8"/>
<line x1="272.60" y1="268.70" x2="275.60" y2="268.70" stroke="#000" stroke-width="0.8"/>
<line x1="272.60" y1="294.60" x2="275.60" y2="294.60" stroke="#000" stroke-width="0.8"/>
<line x1="291.50" y1="320.60" x2="291.50" y2="323.00" stroke="#000" stroke-width="0.8"/>
<line x1="324.50" y1="320.60" x2="324.50" y2="323.00" stroke="#000" stroke-width="0.8"/>
<rect x="312.10" y="250.80" width="3.20" height="69.80" fill="#a3022b"/>
<rect x="318.20" y="289.80" width="3.20" height="30.80" fill="#1a3f7a"/>
<rect x="324.00" y="288.80" width="3.20" height="31.80" fill="#62a536"/>
<rect x="329.80" y="264.80" width="3.20" height="55.80" fill="#45155a"/>
<rect x="335.70" y="268.70" width="3.20" height="51.90" fill="#dd8508"/>
<line x1="368.50" y1="240.00" x2="368.50" y2="320.60" stroke="#000" stroke-width="1"/>
<line x1="368.50" y1="320.60" x2="434.20" y2="320.60" stroke="#000" stroke-width="1.2"/>
<line x1="365.50" y1="241.90" x2="368.50" y2="241.90" stroke="#000" stroke-width="0.8"/>
<text x="362.30" y="244.90" font-size="8.5" text-anchor="end" textLength="4.34" lengthAdjust="spacingAndGlyphs">3</text>
<line x1="365.50" y1="268.70" x2="368.50" y2="268.70" stroke="#000" stroke-width="0.8"/>
<text x="362.30" y="271.70" font-size="8.5" text-anchor="end" textLength="4.34" lengthAdjust="spacingAndGlyphs">2</text>
<line x1="365.50" y1="294.60" x2="368.50" y2="294.60" stroke="#000" stroke-width="0.8"/>
<text x="362.30" y="297.60" font-size="8.5" text-anchor="end" textLength="4.34" lengthAdjust="spacingAndGlyphs">1</text>
<line x1="365.50" y1="320.60" x2="368.50" y2="320.60" stroke="#000" stroke-width="0.8"/>
<text x="362.30" y="323.60" font-size="8.5" text-anchor="end" textLength="4.34" lengthAdjust="spacingAndGlyphs">0</text>
<line x1="384.60" y1="320.60" x2="384.60" y2="323.00" stroke="#000" stroke-width="0.8"/>
<line x1="417.90" y1="320.60" x2="417.90" y2="323.00" stroke="#000" stroke-width="0.8"/>
<rect x="404.00" y="268.30" width="4.00" height="52.30" fill="#a3022b"/>
<rect x="410.10" y="301.90" width="4.00" height="18.70" fill="#1a3f7a"/>
<rect x="415.90" y="301.90" width="4.00" height="18.70" fill="#62a536"/>
<rect x="421.90" y="263.50" width="4.00" height="57.10" fill="#45155a"/>
<rect x="427.40" y="266.30" width="4.00" height="54.30" fill="#dd8508"/>
<line x1="446.30" y1="240.40" x2="446.30" y2="320.60" stroke="#000" stroke-width="1"/>
<line x1="446.30" y1="320.60" x2="513.30" y2="320.60" stroke="#000" stroke-width="1.2"/>
<line x1="443.30" y1="242.70" x2="446.30" y2="242.70" stroke="#000" stroke-width="0.8"/>
<line x1="443.30" y1="268.70" x2="446.30" y2="268.70" stroke="#000" stroke-width="0.8"/>
<line x1="443.30" y1="294.60" x2="446.30" y2="294.60" stroke="#000" stroke-width="0.8"/>
<line x1="463.30" y1="320.60" x2="463.30" y2="323.00" stroke="#000" stroke-width="0.8"/>
<line x1="496.30" y1="320.60" x2="496.30" y2="323.00" stroke="#000" stroke-width="0.8"/>
<rect x="482.80" y="271.50" width="3.90" height="49.10" fill="#a3022b"/>
<rect x="488.60" y="290.20" width="3.90" height="30.40" fill="#1a3f7a"/>
<rect x="494.30" y="305.20" width="3.90" height="15.40" fill="#62a536"/>
<rect x="500.20" y="272.70" width="3.90" height="47.90" fill="#45155a"/>
<rect x="506.00" y="271.20" width="3.90" height="49.40" fill="#dd8508"/>
<rect x="449.40" y="319.00" width="3.90" height="1.60" fill="#a3022b"/>
<rect x="467.10" y="318.30" width="3.90" height="2.30" fill="#45155a"/>
<rect x="371.20" y="217.40" width="7.30" height="4.00" fill="#a3022b"/>
<text x="381.90" y="221.70" font-size="6.6">0 µM</text>
<rect x="449.80" y="217.40" width="7.10" height="4.00" fill="#a3022b"/>
<text x="460.00" y="221.70" font-size="6.6">0 µM</text>
<rect x="371.20" y="226.45" width="7.30" height="4.00" fill="#1a3f7a"/>
<text x="381.90" y="230.75" font-size="6.6">3 µM GSI +/+</text>
<rect x="449.80" y="226.45" width="7.10" height="4.00" fill="#1a3f7a"/>
<text x="460.00" y="230.75" font-size="6.6">0.3 µM GSI +/+</text>
<rect x="371.20" y="235.50" width="7.30" height="4.00" fill="#62a536"/>
<text x="381.90" y="239.80" font-size="6.6">10 µM GSI +/+</text>
<rect x="449.80" y="235.50" width="7.10" height="4.00" fill="#62a536"/>
<text x="460.00" y="239.80" font-size="6.6">1.0 µM GSI +/+</text>
<rect x="371.20" y="244.55" width="7.30" height="4.00" fill="#45155a"/>
<text x="381.90" y="248.85" font-size="6.6">3 µM GSI +/-</text>
<rect x="449.80" y="244.55" width="7.10" height="4.00" fill="#45155a"/>
<text x="460.00" y="248.85" font-size="6.6">0.3 µM GSI +/-</text>
<rect x="371.20" y="253.60" width="7.30" height="4.00" fill="#dd8508"/>
<text x="381.90" y="257.90" font-size="6.6">10 µM GSI +/-</text>
<rect x="449.80" y="253.60" width="7.10" height="4.00" fill="#dd8508"/>
<text x="460.00" y="257.90" font-size="6.6">1.0 µM GSI +/-</text>
<text x="213.50" y="334.20" font-size="8.6" text-anchor="middle" textLength="21.17" lengthAdjust="spacingAndGlyphs">K562/</text>
<text x="213.50" y="343.90" font-size="8.6" text-anchor="middle" textLength="23.40" lengthAdjust="spacingAndGlyphs">BCMA</text>
<text x="246.50" y="334.20" font-size="8.6" text-anchor="middle" textLength="21.17" lengthAdjust="spacingAndGlyphs">K562/</text>
<text x="246.50" y="343.90" font-size="8.6" text-anchor="middle" textLength="20.71" lengthAdjust="spacingAndGlyphs">CD19</text>
<text x="291.50" y="334.20" font-size="8.6" text-anchor="middle" textLength="21.17" lengthAdjust="spacingAndGlyphs">K562/</text>
<text x="291.50" y="343.90" font-size="8.6" text-anchor="middle" textLength="23.40" lengthAdjust="spacingAndGlyphs">BCMA</text>
<text x="324.50" y="334.20" font-size="8.6" text-anchor="middle" textLength="21.17" lengthAdjust="spacingAndGlyphs">K562/</text>
<text x="324.50" y="343.90" font-size="8.6" text-anchor="middle" textLength="20.71" lengthAdjust="spacingAndGlyphs">CD19</text>
<text x="384.60" y="334.20" font-size="8.6" text-anchor="middle" textLength="21.17" lengthAdjust="spacingAndGlyphs">K562/</text>
<text x="384.60" y="343.90" font-size="8.6" text-anchor="middle" textLength="23.40" lengthAdjust="spacingAndGlyphs">BCMA</text>
<text x="417.90" y="334.20" font-size="8.6" text-anchor="middle" textLength="21.17" lengthAdjust="spacingAndGlyphs">K562/</text>
<text x="417.90" y="343.90" font-size="8.6" text-anchor="middle" textLength="20.71" lengthAdjust="spacingAndGlyphs">CD19</text>
<text x="463.30" y="334.20" font-size="8.6" text-anchor="middle" textLength="21.17" lengthAdjust="spacingAndGlyphs">K562/</text>
<text x="463.30" y="343.90" font-size="8.6" text-anchor="middle" textLength="23.40" lengthAdjust="spacingAndGlyphs">BCMA</text>
<text x="496.30" y="334.20" font-size="8.6" text-anchor="middle" textLength="21.17" lengthAdjust="spacingAndGlyphs">K562/</text>
<text x="496.30" y="343.90" font-size="8.6" text-anchor="middle" textLength="20.71" lengthAdjust="spacingAndGlyphs">CD19</text>
<text x="230.30" y="356.60" font-size="9.2" text-anchor="middle" textLength="41.00" lengthAdjust="spacingAndGlyphs">RO4929097</text>
<text x="308.00" y="356.60" font-size="9.2" text-anchor="middle" textLength="38.80" lengthAdjust="spacingAndGlyphs">LY3039478</text>
<text x="401.00" y="356.40" font-size="9.2" text-anchor="middle" textLength="41.30" lengthAdjust="spacingAndGlyphs">RO4929097</text>
<text x="479.80" y="356.60" font-size="9.2" text-anchor="middle" textLength="38.80" lengthAdjust="spacingAndGlyphs">LY3039478</text>
<text x="172.50" y="280.00" font-size="9.0" text-anchor="middle" textLength="40.60" lengthAdjust="spacingAndGlyphs" transform="rotate(-90 172.50 280.00)">IL-2 (ng/mL)</text>
<text x="154.30" y="400.20" font-size="10.2" text-anchor="middle" textLength="74.00" lengthAdjust="spacingAndGlyphs">RO4929097 (µM)</text>
<text x="354.90" y="400.20" font-size="10.2" text-anchor="middle" textLength="70.20" lengthAdjust="spacingAndGlyphs">LY3039478 (µM)</text>
<rect x="83.80" y="415.80" width="24.40" height="13.70" fill="#a8002c" stroke="#1a1a1a" stroke-width="0.9"/>
<rect x="108.20" y="415.80" width="61.00" height="13.70" fill="#b83050" stroke="#1a1a1a" stroke-width="0.9"/>
<rect x="169.20" y="415.80" width="38.50" height="13.70" fill="#c8637b" stroke="#1a1a1a" stroke-width="0.9"/>
<rect x="207.70" y="415.80" width="13.80" height="13.70" fill="#dc98aa" stroke="#1a1a1a" stroke-width="0.9"/>
<rect x="221.50" y="415.80" width="1.70" height="13.70" fill="#ecc8d1" stroke="#1a1a1a" stroke-width="0.9"/>
<rect x="223.20" y="415.80" width="1.40" height="13.70" fill="#ffffff" stroke="#1a1a1a" stroke-width="0.9"/>
<rect x="83.80" y="429.50" width="22.80" height="13.70" fill="#a8002c" stroke="#1a1a1a" stroke-width="0.9"/>
<rect x="106.60" y="429.50" width="63.70" height="13.70" fill="#b83050" stroke="#1a1a1a" stroke-width="0.9"/>
<rect x="170.30" y="429.50" width="38.90" height="13.70" fill="#c8637b" stroke="#1a1a1a" stroke-width="0.9"/>
<rect x="209.20" y="429.50" width="13.10" height="13.70" fill="#dc98aa" stroke="#1a1a1a" stroke-width="0.9"/>
<rect x="222.30" y="429.50" width="1.50" height="13.70" fill="#ecc8d1" stroke="#1a1a1a" stroke-width="0.9"/>
<rect x="223.80" y="429.50" width="0.80" height="13.70" fill="#ffffff" stroke="#1a1a1a" stroke-width="0.9"/>
<rect x="83.80" y="443.20" width="21.90" height="13.70" fill="#a8002c" stroke="#1a1a1a" stroke-width="0.9"/>
<rect x="105.70" y="443.20" width="62.30" height="13.70" fill="#b83050" stroke="#1a1a1a" stroke-width="0.9"/>
<rect x="168.00" y="443.20" width="40.80" height="13.70" fill="#c8637b" stroke="#1a1a1a" stroke-width="0.9"/>
<rect x="208.80" y="443.20" width="13.20" height="13.70" fill="#dc98aa" stroke="#1a1a1a" stroke-width="0.9"/>
<rect x="222.00" y="443.20" width="1.60" height="13.70" fill="#ecc8d1" stroke="#1a1a1a" stroke-width="0.9"/>
<rect x="223.60" y="443.20" width="1.00" height="13.70" fill="#ffffff" stroke="#1a1a1a" stroke-width="0.9"/>
<rect x="83.80" y="456.90" width="11.60" height="13.70" fill="#a8002c" stroke="#1a1a1a" stroke-width="0.9"/>
<rect x="95.40" y="456.90" width="47.20" height="13.70" fill="#b83050" stroke="#1a1a1a" stroke-width="0.9"/>
<rect x="142.60" y="456.90" width="52.00" height="13.70" fill="#c8637b" stroke="#1a1a1a" stroke-width="0.9"/>
<rect x="194.60" y="456.90" width="24.20" height="13.70" fill="#dc98aa" stroke="#1a1a1a" stroke-width="0.9"/>
<rect x="218.80" y="456.90" width="4.80" height="13.70" fill="#ecc8d1" stroke="#1a1a1a" stroke-width="0.9"/>
<rect x="223.60" y="456.90" width="1.00" height="13.70" fill="#ffffff" stroke="#1a1a1a" stroke-width="0.9"/>
<rect x="83.80" y="470.60" width="2.40" height="13.70" fill="#a8002c" stroke="#1a1a1a" stroke-width="0.9"/>
<rect x="86.20" y="470.60" width="15.30" height="13.70" fill="#b83050" stroke="#1a1a1a" stroke-width="0.9"/>
<rect x="101.50" y="470.60" width="39.00" height="13.70" fill="#c8637b" stroke="#1a1a1a" stroke-width="0.9"/>
<rect x="140.50" y="470.60" width="52.10" height="13.70" fill="#dc98aa" stroke="#1a1a1a" stroke-width="0.9"/>
<rect x="192.60" y="470.60" width="26.60" height="13.70" fill="#ecc8d1" stroke="#1a1a1a" stroke-width="0.9"/>
<rect x="219.20" y="470.60" width="5.40" height="13.70" fill="#ffffff" stroke="#1a1a1a" stroke-width="0.9"/>
<rect x="83.80" y="415.80" width="140.80" height="68.50" fill="none" stroke="#1a1a1a" stroke-width="1"/>
<text x="80.20" y="411.80" font-size="8.3" text-anchor="end">div</text>
<text x="95.70" y="411.80" font-size="8.3" text-anchor="middle" textLength="4.00" lengthAdjust="spacingAndGlyphs">5</text>
<text x="138.30" y="411.80" font-size="8.3" text-anchor="middle" textLength="4.00" lengthAdjust="spacingAndGlyphs">4</text>
<text x="188.20" y="411.80" font-size="8.3" text-anchor="middle" textLength="4.00" lengthAdjust="spacingAndGlyphs">3</text>
<text x="212.60" y="411.80" font-size="8.3" text-anchor="middle" textLength="4.00" lengthAdjust="spacingAndGlyphs">2</text>
<text x="218.30" y="411.80" font-size="8.3" text-anchor="middle" textLength="4.00" lengthAdjust="spacingAndGlyphs">1</text>
<text x="224.40" y="411.80" font-size="8.3" text-anchor="middle" textLength="4.00" lengthAdjust="spacingAndGlyphs">0</text>
<text x="80.20" y="425.70" font-size="8.2" text-anchor="end">0 µM</text>
<text x="80.20" y="439.40" font-size="8.2" text-anchor="end">0.01 µM</text>
<text x="80.20" y="453.10" font-size="8.2" text-anchor="end">0.1 µM</text>
<text x="80.20" y="466.80" font-size="8.2" text-anchor="end">1 µM</text>
<text x="80.20" y="480.50" font-size="8.2" text-anchor="end">10 µM</text>
<rect x="283.80" y="415.80" width="25.60" height="13.70" fill="#a8002c" stroke="#1a1a1a" stroke-width="0.9"/>
<rect x="309.40" y="415.80" width="62.60" height="13.70" fill="#b83050" stroke="#1a1a1a" stroke-width="0.9"/>
<rect x="372.00" y="415.80" width="38.00" height="13.70" fill="#c8637b" stroke="#1a1a1a" stroke-width="0.9"/>
<rect x="410.00" y="415.80" width="12.30" height="13.70" fill="#dc98aa" stroke="#1a1a1a" stroke-width="0.9"/>
<rect x="422.30" y="415.80" width="1.90" height="13.70" fill="#ecc8d1" stroke="#1a1a1a" stroke-width="0.9"/>
<rect x="424.20" y="415.80" width="1.20" height="13.70" fill="#ffffff" stroke="#1a1a1a" stroke-width="0.9"/>
<rect x="283.80" y="429.50" width="31.60" height="13.70" fill="#a8002c" stroke="#1a1a1a" stroke-width="0.9"/>
<rect x="315.40" y="429.50" width="68.00" height="13.70" fill="#b83050" stroke="#1a1a1a" stroke-width="0.9"/>
<rect x="383.40" y="429.50" width="31.20" height="13.70" fill="#c8637b" stroke="#1a1a1a" stroke-width="0.9"/>
<rect x="414.60" y="429.50" width="8.50" height="13.70" fill="#dc98aa" stroke="#1a1a1a" stroke-width="0.9"/>
<rect x="423.10" y="429.50" width="1.40" height="13.70" fill="#ecc8d1" stroke="#1a1a1a" stroke-width="0.9"/>
<rect x="424.50" y="429.50" width="0.90" height="13.70" fill="#ffffff" stroke="#1a1a1a" stroke-width="0.9"/>
<rect x="283.80" y="443.20" width="25.60" height="13.70" fill="#a8002c" stroke="#1a1a1a" stroke-width="0.9"/>
<rect x="309.40" y="443.20" width="68.00" height="13.70" fill="#b83050" stroke="#1a1a1a" stroke-width="0.9"/>
<rect x="377.40" y="443.20" width="35.60" height="13.70" fill="#c8637b" stroke="#1a1a1a" stroke-width="0.9"/>
<rect x="413.00" y="443.20" width="10.10" height="13.70" fill="#dc98aa" stroke="#1a1a1a" stroke-width="0.9"/>
<rect x="423.10" y="443.20" width="1.40" height="13.70" fill="#ecc8d1" stroke="#1a1a1a" stroke-width="0.9"/>
<rect x="424.50" y="443.20" width="0.90" height="13.70" fill="#ffffff" stroke="#1a1a1a" stroke-width="0.9"/>
<rect x="283.80" y="456.90" width="16.50" height="13.70" fill="#a8002c" stroke="#1a1a1a" stroke-width="0.9"/>
<rect x="300.30" y="456.90" width="54.30" height="13.70" fill="#b83050" stroke="#1a1a1a" stroke-width="0.9"/>
<rect x="354.60" y="456.90" width="46.60" height="13.70" fill="#c8637b" stroke="#1a1a1a" stroke-width="0.9"/>
<rect x="401.20" y="456.90" width="19.30" height="13.70" fill="#dc98aa" stroke="#1a1a1a" stroke-width="0.9"/>
<rect x="420.50" y="456.90" width="3.80" height="13.70" fill="#ecc8d1" stroke="#1a1a1a" stroke-width="0.9"/>
<rect x="424.30" y="456.90" width="1.10" height="13.70" fill="#ffffff" stroke="#1a1a1a" stroke-width="0.9"/>
<rect x="283.80" y="470.60" width="7.70" height="13.70" fill="#a8002c" stroke="#1a1a1a" stroke-width="0.9"/>
<rect x="291.50" y="470.60" width="38.00" height="13.70" fill="#b83050" stroke="#1a1a1a" stroke-width="0.9"/>
<rect x="329.50" y="470.60" width="52.00" height="13.70" fill="#c8637b" stroke="#1a1a1a" stroke-width="0.9"/>
<rect x="381.50" y="470.60" width="33.10" height="13.70" fill="#dc98aa" stroke="#1a1a1a" stroke-width="0.9"/>
<rect x="414.60" y="470.60" width="9.30" height="13.70" fill="#ecc8d1" stroke="#1a1a1a" stroke-width="0.9"/>
<rect x="423.90" y="470.60" width="1.50" height="13.70" fill="#ffffff" stroke="#1a1a1a" stroke-width="0.9"/>
<rect x="283.80" y="415.80" width="141.60" height="68.50" fill="none" stroke="#1a1a1a" stroke-width="1"/>
<text x="280.60" y="411.80" font-size="8.3" text-anchor="end">div</text>
<text x="296.60" y="411.80" font-size="8.3" text-anchor="middle" textLength="4.00" lengthAdjust="spacingAndGlyphs">5</text>
<text x="340.40" y="411.80" font-size="8.3" text-anchor="middle" textLength="4.00" lengthAdjust="spacingAndGlyphs">4</text>
<text x="390.80" y="411.80" font-size="8.3" text-anchor="middle" textLength="4.00" lengthAdjust="spacingAndGlyphs">3</text>
<text x="412.30" y="411.80" font-size="8.3" text-anchor="middle" textLength="4.00" lengthAdjust="spacingAndGlyphs">2</text>
<text x="418.30" y="411.80" font-size="8.3" text-anchor="middle" textLength="4.00" lengthAdjust="spacingAndGlyphs">1</text>
<text x="425.30" y="411.80" font-size="8.3" text-anchor="middle" textLength="4.00" lengthAdjust="spacingAndGlyphs">0</text>
<text x="280.60" y="425.70" font-size="8.2" text-anchor="end">0 µM</text>
<text x="280.60" y="439.40" font-size="8.2" text-anchor="end">0.001 µM</text>
<text x="280.60" y="453.10" font-size="8.2" text-anchor="end">0.01 µM</text>
<text x="280.60" y="466.80" font-size="8.2" text-anchor="end">0.1 µM</text>
<text x="280.60" y="480.50" font-size="8.2" text-anchor="end">1 µM</text>
<rect x="83.80" y="503.10" width="25.90" height="13.70" fill="#a8002c" stroke="#1a1a1a" stroke-width="0.9"/>
<rect x="109.70" y="503.10" width="22.60" height="13.70" fill="#b83050" stroke="#1a1a1a" stroke-width="0.9"/>
<rect x="132.30" y="503.10" width="32.60" height="13.70" fill="#c8637b" stroke="#1a1a1a" stroke-width="0.9"/>
<rect x="164.90" y="503.10" width="31.60" height="13.70" fill="#dc98aa" stroke="#1a1a1a" stroke-width="0.9"/>
<rect x="196.50" y="503.10" width="23.00" height="13.70" fill="#ecc8d1" stroke="#1a1a1a" stroke-width="0.9"/>
<rect x="219.50" y="503.10" width="5.40" height="13.70" fill="#ffffff" stroke="#1a1a1a" stroke-width="0.9"/>
<rect x="83.80" y="516.80" width="18.80" height="13.70" fill="#a8002c" stroke="#1a1a1a" stroke-width="0.9"/>
<rect x="102.60" y="516.80" width="22.30" height="13.70" fill="#b83050" stroke="#1a1a1a" stroke-width="0.9"/>
<rect x="124.90" y="516.80" width="32.30" height="13.70" fill="#c8637b" stroke="#1a1a1a" stroke-width="0.9"/>
<rect x="157.20" y="516.80" width="34.00" height="13.70" fill="#dc98aa" stroke="#1a1a1a" stroke-width="0.9"/>
<rect x="191.20" y="516.80" width="26.50" height="13.70" fill="#ecc8d1" stroke="#1a1a1a" stroke-width="0.9"/>
<rect x="217.70" y="516.80" width="7.20" height="13.70" fill="#ffffff" stroke="#1a1a1a" stroke-width="0.9"/>
<rect x="83.80" y="530.50" width="14.70" height="13.70" fill="#a8002c" stroke="#1a1a1a" stroke-width="0.9"/>
<rect x="98.50" y="530.50" width="23.00" height="13.70" fill="#b83050" stroke="#1a1a1a" stroke-width="0.9"/>
<rect x="121.50" y="530.50" width="36.20" height="13.70" fill="#c8637b" stroke="#1a1a1a" stroke-width="0.9"/>
<rect x="157.70" y="530.50" width="38.50" height="13.70" fill="#dc98aa" stroke="#1a1a1a" stroke-width="0.9"/>
<rect x="196.20" y="530.50" width="24.60" height="13.70" fill="#ecc8d1" stroke="#1a1a1a" stroke-width="0.9"/>
<rect x="220.80" y="530.50" width="4.10" height="13.70" fill="#ffffff" stroke="#1a1a1a" stroke-width="0.9"/>
<rect x="83.80" y="544.20" width="14.70" height="13.70" fill="#a8002c" stroke="#1a1a1a" stroke-width="0.9"/>
<rect x="98.50" y="544.20" width="13.80" height="13.70" fill="#b83050" stroke="#1a1a1a" stroke-width="0.9"/>
<rect x="112.30" y="544.20" width="20.80" height="13.70" fill="#c8637b" stroke="#1a1a1a" stroke-width="0.9"/>
<rect x="133.10" y="544.20" width="32.30" height="13.70" fill="#dc98aa" stroke="#1a1a1a" stroke-width="0.9"/>
<rect x="165.40" y="544.20" width="47.40" height="13.70" fill="#ecc8d1" stroke="#1a1a1a" stroke-width="0.9"/>
<rect x="212.80" y="544.20" width="12.10" height="13.70" fill="#ffffff" stroke="#1a1a1a" stroke-width="0.9"/>
<rect x="83.80" y="557.90" width="9.60" height="13.70" fill="#a8002c" stroke="#1a1a1a" stroke-width="0.9"/>
<rect x="93.40" y="557.90" width="8.10" height="13.70" fill="#b83050" stroke="#1a1a1a" stroke-width="0.9"/>
<rect x="101.50" y="557.90" width="8.00" height="13.70" fill="#c8637b" stroke="#1a1a1a" stroke-width="0.9"/>
<rect x="109.50" y="557.90" width="15.10" height="13.70" fill="#dc98aa" stroke="#1a1a1a" stroke-width="0.9"/>
<rect x="124.60" y="557.90" width="55.90" height="13.70" fill="#ecc8d1" stroke="#1a1a1a" stroke-width="0.9"/>
<rect x="180.50" y="557.90" width="44.40" height="13.70" fill="#ffffff" stroke="#1a1a1a" stroke-width="0.9"/>
<rect x="83.80" y="503.10" width="141.10" height="68.50" fill="none" stroke="#1a1a1a" stroke-width="1"/>
<text x="80.20" y="500.00" font-size="8.3" text-anchor="end">div</text>
<text x="96.90" y="500.00" font-size="8.3" text-anchor="middle" textLength="4.00" lengthAdjust="spacingAndGlyphs">5</text>
<text x="120.80" y="500.00" font-size="8.3" text-anchor="middle" textLength="4.00" lengthAdjust="spacingAndGlyphs">4</text>
<text x="148.50" y="500.00" font-size="8.3" text-anchor="middle" textLength="4.00" lengthAdjust="spacingAndGlyphs">3</text>
<text x="180.80" y="500.00" font-size="8.3" text-anchor="middle" textLength="4.00" lengthAdjust="spacingAndGlyphs">2</text>
<text x="208.20" y="500.00" font-size="8.3" text-anchor="middle" textLength="4.00" lengthAdjust="spacingAndGlyphs">1</text>
<text x="222.30" y="500.00" font-size="8.3" text-anchor="middle" textLength="4.00" lengthAdjust="spacingAndGlyphs">0</text>
<text x="80.20" y="513.00" font-size="8.2" text-anchor="end">0 µM</text>
<text x="80.20" y="526.70" font-size="8.2" text-anchor="end">0.01 µM</text>
<text x="80.20" y="540.40" font-size="8.2" text-anchor="end">0.1 µM</text>
<text x="80.20" y="554.10" font-size="8.2" text-anchor="end">1 µM</text>
<text x="80.20" y="567.80" font-size="8.2" text-anchor="end">10 µM</text>
<rect x="284.20" y="503.10" width="21.20" height="13.70" fill="#a8002c" stroke="#1a1a1a" stroke-width="0.9"/>
<rect x="305.40" y="503.10" width="23.10" height="13.70" fill="#b83050" stroke="#1a1a1a" stroke-width="0.9"/>
<rect x="328.50" y="503.10" width="34.60" height="13.70" fill="#c8637b" stroke="#1a1a1a" stroke-width="0.9"/>
<rect x="363.10" y="503.10" width="34.60" height="13.70" fill="#dc98aa" stroke="#1a1a1a" stroke-width="0.9"/>
<rect x="397.70" y="503.10" width="23.50" height="13.70" fill="#ecc8d1" stroke="#1a1a1a" stroke-width="0.9"/>
<rect x="421.20" y="503.10" width="4.20" height="13.70" fill="#ffffff" stroke="#1a1a1a" stroke-width="0.9"/>
<rect x="284.20" y="516.80" width="22.30" height="13.70" fill="#a8002c" stroke="#1a1a1a" stroke-width="0.9"/>
<rect x="306.50" y="516.80" width="24.70" height="13.70" fill="#b83050" stroke="#1a1a1a" stroke-width="0.9"/>
<rect x="331.20" y="516.80" width="35.30" height="13.70" fill="#c8637b" stroke="#1a1a1a" stroke-width="0.9"/>
<rect x="366.50" y="516.80" width="32.40" height="13.70" fill="#dc98aa" stroke="#1a1a1a" stroke-width="0.9"/>
<rect x="398.90" y="516.80" width="22.90" height="13.70" fill="#ecc8d1" stroke="#1a1a1a" stroke-width="0.9"/>
<rect x="421.80" y="516.80" width="3.60" height="13.70" fill="#ffffff" stroke="#1a1a1a" stroke-width="0.9"/>
<rect x="284.20" y="530.50" width="21.20" height="13.70" fill="#a8002c" stroke="#1a1a1a" stroke-width="0.9"/>
<rect x="305.40" y="530.50" width="23.80" height="13.70" fill="#b83050" stroke="#1a1a1a" stroke-width="0.9"/>
<rect x="329.20" y="530.50" width="34.30" height="13.70" fill="#c8637b" stroke="#1a1a1a" stroke-width="0.9"/>
<rect x="363.50" y="530.50" width="35.70" height="13.70" fill="#dc98aa" stroke="#1a1a1a" stroke-width="0.9"/>
<rect x="399.20" y="530.50" width="22.80" height="13.70" fill="#ecc8d1" stroke="#1a1a1a" stroke-width="0.9"/>
<rect x="422.00" y="530.50" width="3.40" height="13.70" fill="#ffffff" stroke="#1a1a1a" stroke-width="0.9"/>
<rect x="284.20" y="544.20" width="15.30" height="13.70" fill="#a8002c" stroke="#1a1a1a" stroke-width="0.9"/>
<rect x="299.50" y="544.20" width="17.90" height="13.70" fill="#b83050" stroke="#1a1a1a" stroke-width="0.9"/>
<rect x="317.40" y="544.20" width="29.20" height="13.70" fill="#c8637b" stroke="#1a1a1a" stroke-width="0.9"/>
<rect x="346.60" y="544.20" width="38.00" height="13.70" fill="#dc98aa" stroke="#1a1a1a" stroke-width="0.9"/>
<rect x="384.60" y="544.20" width="33.10" height="13.70" fill="#ecc8d1" stroke="#1a1a1a" stroke-width="0.9"/>
<rect x="417.70" y="544.20" width="7.70" height="13.70" fill="#ffffff" stroke="#1a1a1a" stroke-width="0.9"/>
<rect x="284.20" y="557.90" width="11.20" height="13.70" fill="#a8002c" stroke="#1a1a1a" stroke-width="0.9"/>
<rect x="295.40" y="557.90" width="9.20" height="13.70" fill="#b83050" stroke="#1a1a1a" stroke-width="0.9"/>
<rect x="304.60" y="557.90" width="15.90" height="13.70" fill="#c8637b" stroke="#1a1a1a" stroke-width="0.9"/>
<rect x="320.50" y="557.90" width="28.70" height="13.70" fill="#dc98aa" stroke="#1a1a1a" stroke-width="0.9"/>
<rect x="349.20" y="557.90" width="55.00" height="13.70" fill="#ecc8d1" stroke="#1a1a1a" stroke-width="0.9"/>
<rect x="404.20" y="557.90" width="21.20" height="13.70" fill="#ffffff" stroke="#1a1a1a" stroke-width="0.9"/>
<rect x="284.20" y="503.10" width="141.20" height="68.50" fill="none" stroke="#1a1a1a" stroke-width="1"/>
<text x="280.60" y="500.00" font-size="8.3" text-anchor="end">div</text>
<text x="294.60" y="500.00" font-size="8.3" text-anchor="middle" textLength="4.00" lengthAdjust="spacingAndGlyphs">5</text>
<text x="316.90" y="500.00" font-size="8.3" text-anchor="middle" textLength="4.00" lengthAdjust="spacingAndGlyphs">4</text>
<text x="345.40" y="500.00" font-size="8.3" text-anchor="middle" textLength="4.00" lengthAdjust="spacingAndGlyphs">3</text>
<text x="380.30" y="500.00" font-size="8.3" text-anchor="middle" textLength="4.00" lengthAdjust="spacingAndGlyphs">2</text>
<text x="409.20" y="500.00" font-size="8.3" text-anchor="middle" textLength="4.00" lengthAdjust="spacingAndGlyphs">1</text>
<text x="423.40" y="500.00" font-size="8.3" text-anchor="middle" textLength="4.00" lengthAdjust="spacingAndGlyphs">0</text>
<text x="280.60" y="513.00" font-size="8.2" text-anchor="end">0 µM</text>
<text x="280.60" y="526.70" font-size="8.2" text-anchor="end">0.001 µM</text>
<text x="280.60" y="540.40" font-size="8.2" text-anchor="end">0.01 µM</text>
<text x="280.60" y="554.10" font-size="8.2" text-anchor="end">0.1 µM</text>
<text x="280.60" y="567.80" font-size="8.2" text-anchor="end">1 µM</text>
<text x="27.10" y="445.00" font-size="10.6" text-anchor="middle" textLength="19.60" lengthAdjust="spacingAndGlyphs">CD4</text>
<text x="28.10" y="534.40" font-size="10.6" text-anchor="middle" textLength="19.60" lengthAdjust="spacingAndGlyphs">CD8</text>
<line x1="101.00" y1="587.30" x2="303.00" y2="587.30" stroke="#000" stroke-width="1"/>
<polygon points="307.2,587.3 300.5,584.6 300.5,590.0" fill="#000"/>
<text x="310.30" y="590.50" font-size="9.4" textLength="105.60" lengthAdjust="spacingAndGlyphs">Fraction of cells in division gate</text>
<rect x="0.5" y="0.5" width="519" height="599" fill="none" stroke="#000" stroke-width="1"/>
<line x1="0" y1="599.25" x2="520" y2="599.25" stroke="#000" stroke-width="1.5"/>
</svg>
</body></html>
